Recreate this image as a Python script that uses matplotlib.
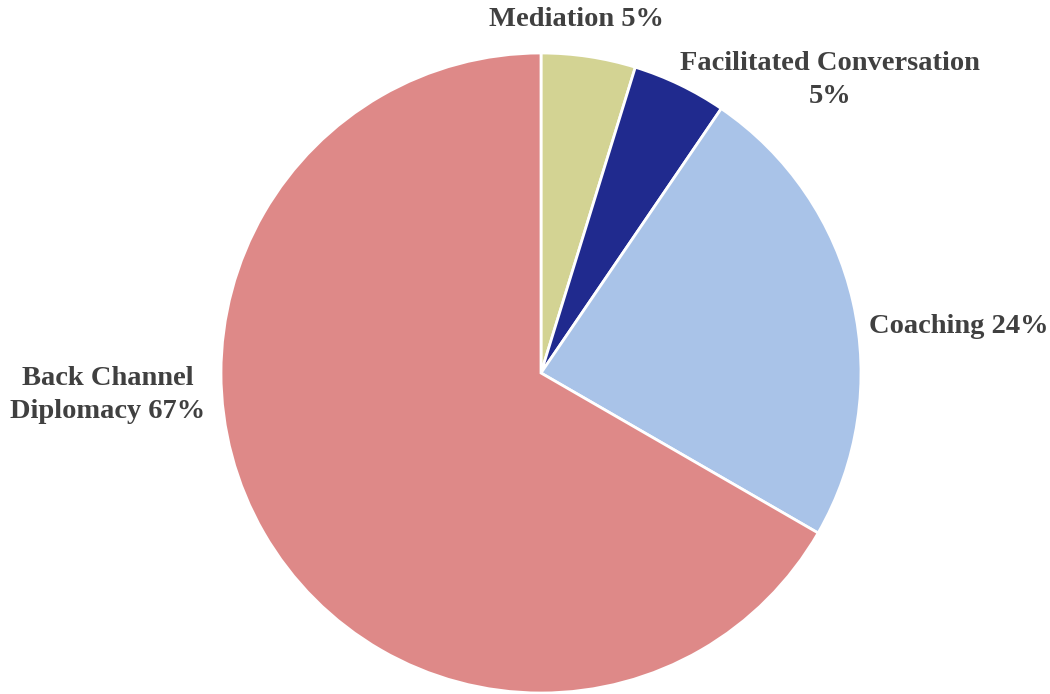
import matplotlib.pyplot as plt

# engagement types, counts (percent labels as shown in the chart)
categories = ['Mediation', 'Facilitated Conversation', 'Coaching', 'Back Channel Diplomacy']
counts = [1, 1, 5, 14]
pct_labels = ['5%', '5%', '24%', '67%']
colors = ['#D3D393', '#202A8E', '#A9C3E8', '#DE8988']

W, H = 1050, 694


def main():
    fig = plt.figure(figsize=(W / 100, H / 100), dpi=100)
    ax = fig.add_axes([0, 0, 1, 1])

    # pie in pixel coords (y flipped, so go counterclock to get clockwise on screen)
    ax.pie(counts, colors=colors, startangle=-90, counterclock=True,
           center=(541, 373), radius=320, frame=True,
           wedgeprops=dict(edgecolor='white', linewidth=2))
    ax.set_xlim(0, W)
    ax.set_ylim(H, 0)
    ax.set_aspect('equal')
    ax.axis('off')

    font = dict(family=['Liberation Serif', 'DejaVu Serif'], fontweight='bold',
                fontsize=20.5, color='#404040', ha='center', va='center',
                linespacing=1.4)
    ax.text(576, 19, categories[0] + ' ' + pct_labels[0], **font)
    ax.text(830, 80, 'Facilitated Conversation\n' + pct_labels[1], **font)
    ax.text(959, 326, categories[2] + ' ' + pct_labels[2], **font)
    ax.text(108, 395, 'Back Channel\nDiplomacy ' + pct_labels[3], **font)

    fig.savefig('out.png', dpi=100)


if __name__ == '__main__':
    main()
